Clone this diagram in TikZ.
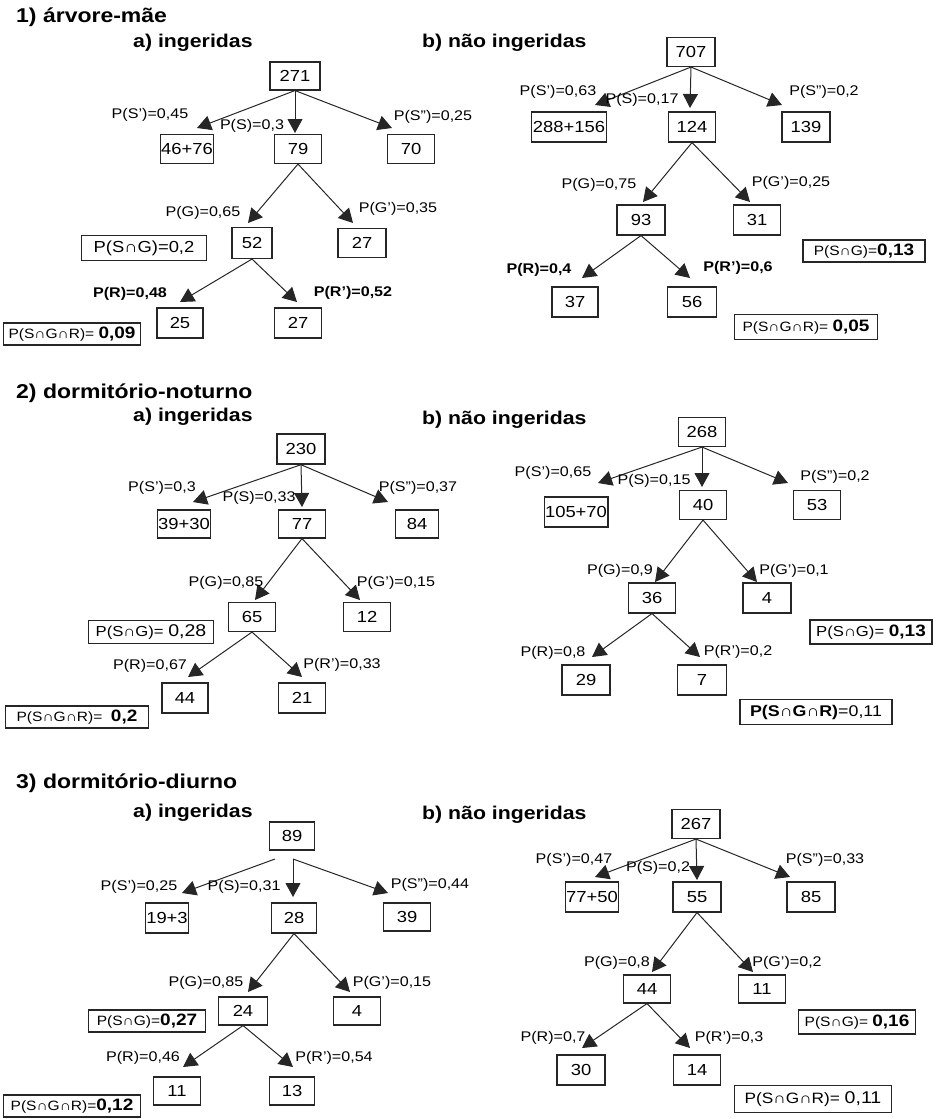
\documentclass[tikz,border=0pt]{standalone}
\usepackage{fontspec}
\setmainfont{Liberation Sans}[FakeStretch=1.15]
\usetikzlibrary{arrows.meta}

\newcommand{\valb}[1]{{\fontsize{16.5}{16}\selectfont\bfseries #1}}
\newcommand{\valn}[1]{{\fontsize{17}{16}\selectfont #1}}

\tikzset{
  num/.style={draw=black!85, line width=1.1pt, minimum width=47pt, minimum height=29pt, inner sep=1pt, font=\fontsize{16}{16}\selectfont},
  prob/.style={inner sep=0pt, font=\fontsize{14}{14}\selectfont},
  probb/.style={inner sep=0pt, font=\fontsize{14}{14}\selectfont\bfseries},
  res/.style={draw=black!85, line width=1.1pt, inner sep=1pt, font=\fontsize{13.5}{13}\selectfont},
  arr/.style={-{Triangle[length=14pt,width=15pt]}, line width=1pt, draw=black!85},
  ttl/.style={anchor=west, inner sep=0pt, font=\fontsize{20}{20}\selectfont\bfseries},
  sub/.style={anchor=west, inner sep=0pt, font=\fontsize{18.5}{18}\selectfont\bfseries}
}

\begin{document}
\begin{tikzpicture}[x=1pt, y=-1pt]
  \useasboundingbox (0,0) rectangle (942,1119);

  % 1) arvore-mae
  \node[ttl] (t1) at (16,17) {1) árvore-mãe};
  \node[sub] (t1a) at (133,43) {a) ingeridas};
  \node[sub] (t1b) at (422,43) {b) não ingeridas};

  % 1a
  \node[num, minimum width=50pt, minimum height=28pt] (r1a) at (295,76) {271};
  \node[num, minimum width=51pt] (s1a) at (187,149) {46+76};
  \node[num] (m1a) at (298,149) {79};
  \node[num] (d1a) at (411,149) {70};
  \coordinate (ts1a) at (197,128);
  \coordinate (tm1a) at (295,133);
  \coordinate (td1a) at (392,128);
  \draw[arr] (r1a.south) -- (ts1a);
  \draw[arr] (r1a.south) -- (tm1a);
  \draw[arr] (r1a.south) -- (td1a);
  \node[prob] (ls1a) at (150,115) {P(S’)=0,45};
  \node[prob] (lm1a) at (252,126) {P(S)=0,3};
  \node[prob] (ld1a) at (433,117) {P(S”)=0,25};

  \node[num, minimum width=40pt, minimum height=31pt] (g1a) at (252,243) {52};
  \node[num, minimum width=48pt] (gn1a) at (362,243) {27};
  \coordinate (tg1a) at (248,223);
  \coordinate (tgn1a) at (353,223);
  \draw[arr] (m1a.south) -- (tg1a);
  \draw[arr] (m1a.south) -- (tgn1a);
  \node[prob] (lg1a) at (203,213) {P(G)=0,65};
  \node[prob] (lgn1a) at (398,209) {P(G’)=0,35};
  \node[res, minimum width=125pt, minimum height=25pt, font=\fontsize{16}{16}\selectfont] (sg1a) at (144,248) {P(S∩G)=0,2};

  \node[num, minimum width=46pt, minimum height=30pt] (rr1a) at (180,323) {25};
  \node[num, minimum height=30pt] (rn1a) at (298,323) {27};
  \coordinate (trr1a) at (180,302);
  \coordinate (trn1a) at (297,302);
  \draw[arr] (g1a.south) -- (trr1a);
  \draw[arr] (g1a.south) -- (trn1a);
  \node[probb] (lr1a) at (130,294) {P(R)=0,48};
  \node[probb] (lrn1a) at (353,293) {P(R’)=0,52};
  \node[res, minimum width=137pt, minimum height=22pt] (sgr1a) at (72,334) {P(S∩G∩R)= \valb{0,09}};

  % 1b
  \node[num, minimum width=48pt] (r1b) at (691,52) {707};
  \node[num, minimum width=72pt, minimum height=30pt] (s1b) at (569,127) {288+156};
  \node[num, minimum height=30pt] (m1b) at (692,127) {124};
  \node[num, minimum width=48pt, minimum height=30pt] (d1b) at (806,127) {139};
  \coordinate (ts1b) at (595,105);
  \coordinate (tm1b) at (690,108);
  \coordinate (td1b) at (782,105);
  \draw[arr] (r1b.south) -- (ts1b);
  \draw[arr] (r1b.south) -- (tm1b);
  \draw[arr] (r1b.south) -- (td1b);
  \node[prob] (ls1b) at (558,92) {P(S’)=0,63};
  \node[prob] (lm1b) at (642,100) {P(S)=0,17};
  \node[prob] (ld1b) at (824,92) {P(S”)=0,2};

  \node[num, minimum width=48pt, minimum height=30pt] (g1b) at (641,220) {93};
  \node[num, minimum height=30pt] (gn1b) at (757,220) {31};
  \coordinate (tg1b) at (643,202);
  \coordinate (tgn1b) at (750,202);
  \draw[arr] (m1b.south) -- (tg1b);
  \draw[arr] (m1b.south) -- (tgn1b);
  \node[prob] (lg1b) at (599,185) {P(G)=0,75};
  \node[prob] (lgn1b) at (791,183) {P(G’)=0,25};
  \node[res, minimum width=122pt, minimum height=22pt] (sg1b) at (864,251) {P(S∩G)=\valb{0,13}};

  \node[num, minimum width=46pt, minimum height=30pt] (rr1b) at (575,302) {37};
  \node[num, minimum width=49pt, minimum height=30pt] (rn1b) at (692,302) {56};
  \coordinate (trr1b) at (582,278);
  \coordinate (trn1b) at (690,278);
  \draw[arr] (g1b.south) -- (trr1b);
  \draw[arr] (g1b.south) -- (trn1b);
  \node[probb] (lr1b) at (539,270) {P(R)=0,4};
  \node[probb] (lrn1b) at (738,268) {P(R’)=0,6};
  \node[res, minimum width=143pt, minimum height=25pt] (sgr1b) at (806,327) {P(S∩G∩R)= \valb{0,05}};

  % 2) dormitorio-noturno
  \node[ttl] (t2) at (16,393) {2) dormitório-noturno};
  \node[sub] (t2a) at (133,417) {a) ingeridas};
  \node[sub] (t2b) at (422,420) {b) não ingeridas};

  % 2a
  \node[num, line width=1.4pt, minimum width=48pt, minimum height=30pt] (r2a) at (301,449) {230};
  \node[num, minimum width=52pt, minimum height=28pt] (s2a) at (184,524) {39+30};
  \node[num, minimum height=28pt] (m2a) at (302,524) {77};
  \node[num, minimum width=43pt, minimum height=28pt] (d2a) at (417,524) {84};
  \coordinate (ts2a) at (193,502);
  \coordinate (tm2a) at (302,507);
  \coordinate (td2a) at (388,502);
  \draw[arr] (r2a.south) -- (ts2a);
  \draw[arr] (r2a.south) -- (tm2a);
  \draw[arr] (r2a.south) -- (td2a);
  \node[prob] (ls2a) at (162,488) {P(S’)=0,3};
  \node[prob] (lm2a) at (259,498) {P(S)=0,33};
  \node[prob] (ld2a) at (418,488) {P(S”)=0,37};

  \node[num] (g2a) at (252,617) {65};
  \node[num] (gn2a) at (367,617) {12};
  \coordinate (tg2a) at (255,600);
  \coordinate (tgn2a) at (360,600);
  \draw[arr] (m2a.south) -- (tg2a);
  \draw[arr] (m2a.south) -- (tgn2a);
  \node[prob] (lg2a) at (226,583) {P(G)=0,85};
  \node[prob] (lgn2a) at (396,583) {P(G’)=0,15};
  \node[res, line width=1.6pt, minimum width=125pt, minimum height=23pt, font=\fontsize{14.5}{14}\selectfont] (sg2a) at (151,632) {P(S∩G)= \valn{0,28}};

  \node[num, minimum width=46pt, minimum height=30pt] (rr2a) at (185,698) {44};
  \node[num, minimum height=30pt] (rn2a) at (302,698) {21};
  \coordinate (trr2a) at (188,677);
  \coordinate (trn2a) at (302,677);
  \draw[arr] (g2a.south) -- (trr2a);
  \draw[arr] (g2a.south) -- (trn2a);
  \node[prob] (lr2a) at (150,666) {P(R)=0,67};
  \node[prob] (lrn2a) at (342,665) {P(R’)=0,33};
  \node[res, line width=1.5pt, minimum width=143pt, minimum height=22pt] (sgr2a) at (77,717) {P(S∩G∩R)= \ \valb{0,2}};

  % 2b
  \node[num] (r2b) at (702,432) {268};
  \node[num, minimum width=62pt, minimum height=30pt] (s2b) at (576,512) {105+70};
  \node[num] (m2b) at (703,505) {40};
  \node[num] (d2b) at (817,505) {53};
  \coordinate (ts2b) at (598,483);
  \coordinate (tm2b) at (702,487);
  \coordinate (td2b) at (788,483);
  \draw[arr] (r2b.south) -- (ts2b);
  \draw[arr] (r2b.south) -- (tm2b);
  \draw[arr] (r2b.south) -- (td2b);
  \node[prob] (ls2b) at (553,473) {P(S’)=0,65};
  \node[prob] (lm2b) at (654,481) {P(S)=0,15};
  \node[prob] (ld2b) at (835,477) {P(S”)=0,2};

  \node[num, minimum height=30pt] (g2b) at (652,598) {36};
  \node[num, minimum width=48pt, minimum height=30pt] (gn2b) at (767,598) {4};
  \coordinate (tg2b) at (655,582);
  \coordinate (tgn2b) at (757,582);
  \draw[arr] (m2b.south) -- (tg2b);
  \draw[arr] (m2b.south) -- (tgn2b);
  \node[prob] (lg2b) at (620,571) {P(G)=0,9};
  \node[prob] (lgn2b) at (794,571) {P(G’)=0,1};
  \node[res, minimum width=122pt, minimum height=24pt, font=\fontsize{14.5}{14}\selectfont] (sg2b) at (871,632) {P(S∩G)= \valb{0,13}};

  \node[num, minimum width=48pt, minimum height=30pt] (rr2b) at (586,680) {29};
  \node[num, minimum width=49pt, minimum height=30pt] (rn2b) at (702,680) {7};
  \coordinate (trr2b) at (592,657);
  \coordinate (trn2b) at (700,657);
  \draw[arr] (g2b.south) -- (trr2b);
  \draw[arr] (g2b.south) -- (trn2b);
  \node[prob] (lr2b) at (553,653) {P(R)=0,8};
  \node[prob] (lrn2b) at (738,652) {P(R’)=0,2};
  \node[res, minimum width=152pt, minimum height=25pt, font=\fontsize{15.5}{15}\selectfont] (sgr2b) at (816,712) {\textbf{P(S∩G∩R)}=0,11};

  % 3) dormitorio-diurno
  \node[ttl] (t3) at (16,783) {3) dormitório-diurno};
  \node[sub] (t3a) at (133,813) {a) ingeridas};
  \node[sub] (t3b) at (422,815) {b) não ingeridas};

  % 3a
  \node[num, minimum width=45pt, minimum height=28pt] (r3a) at (292,836) {89};
  \coordinate (o3al) at (275,859);
  \coordinate (o3a) at (293,859);
  \node[num, minimum width=34pt, minimum height=30pt] (s3a) at (167,918) {19+3};
  \node[num, minimum width=45pt, minimum height=30pt] (m3a) at (294,918) {28};
  \node[num, minimum height=28pt] (d3a) at (407,917) {39};
  \coordinate (ts3a) at (182,893);
  \coordinate (tm3a) at (293,897);
  \coordinate (td3a) at (388,893);
  \draw[arr] (o3al) -- (ts3a);
  \draw[arr] (o3a) -- (tm3a);
  \draw[arr] (o3a) -- (td3a);
  \node[prob] (ls3a) at (139,887) {P(S’)=0,25};
  \node[prob] (lm3a) at (244,887) {P(S)=0,31};
  \node[prob] (ld3a) at (430,885) {P(S”)=0,44};

  \node[num, minimum width=49pt, minimum height=28pt] (g3a) at (243,1011) {24};
  \node[num, minimum height=28pt] (gn3a) at (357,1011) {4};
  \coordinate (tg3a) at (248,992);
  \coordinate (tgn3a) at (350,992);
  \draw[arr] (m3a.south) -- (tg3a);
  \draw[arr] (m3a.south) -- (tgn3a);
  \node[prob] (lg3a) at (206,983) {P(G)=0,85};
  \node[prob] (lgn3a) at (392,983) {P(G’)=0,15};
  \node[res, line width=1.6pt, minimum width=117pt, minimum height=22pt] (sg3a) at (147,1021) {P(S∩G)=\valb{0,27}};

  \node[num, minimum height=28pt] (rr3a) at (177,1091) {11};
  \node[num, minimum width=45pt, minimum height=28pt] (rn3a) at (292,1091) {13};
  \coordinate (trr3a) at (183,1067);
  \coordinate (trn3a) at (293,1067);
  \draw[arr] (g3a.south) -- (trr3a);
  \draw[arr] (g3a.south) -- (trn3a);
  \node[prob] (lr3a) at (143,1058) {P(R)=0,46};
  \node[prob] (lrn3a) at (334,1058) {P(R’)=0,54};
  \node[res, line width=1.6pt, minimum width=137pt, minimum height=22pt] (sgr3a) at (72,1106) {P(S∩G∩R)=\valb{0,12}};

  % 3b
  \node[num, minimum width=48pt] (r3b) at (696,824) {267};
  \node[num, minimum width=49pt, minimum height=30pt] (s3b) at (592,897) {77+50};
  \node[num, minimum width=48pt, minimum height=30pt] (m3b) at (697,897) {55};
  \node[num, minimum width=48pt, minimum height=30pt] (d3b) at (811,897) {85};
  \coordinate (ts3b) at (595,877);
  \coordinate (tm3b) at (697,880);
  \coordinate (td3b) at (790,877);
  \draw[arr] (r3b.south) -- (ts3b);
  \draw[arr] (r3b.south) -- (tm3b);
  \draw[arr] (r3b.south) -- (td3b);
  \node[prob] (ls3b) at (574,860) {P(S’)=0,47};
  \node[prob] (lm3b) at (658,868) {P(S)=0,2};
  \node[prob] (ld3b) at (825,860) {P(S”)=0,33};

  \node[num, minimum height=28pt] (g3b) at (647,989) {44};
  \node[num, minimum height=28pt] (gn3b) at (762,989) {11};
  \coordinate (tg3b) at (652,972);
  \coordinate (tgn3b) at (753,972);
  \draw[arr] (m3b.south) -- (tg3b);
  \draw[arr] (m3b.south) -- (tgn3b);
  \node[prob] (lg3b) at (617,963) {P(G)=0,8};
  \node[prob] (lgn3b) at (787,963) {P(G’)=0,2};
  \node[res, minimum width=117pt, minimum height=24pt] (sg3b) at (857,1022) {P(S∩G)= \valb{0,16}};

  \node[num, minimum width=48pt, minimum height=30pt] (rr3b) at (581,1070) {30};
  \node[num, minimum height=30pt] (rn3b) at (697,1070) {14};
  \coordinate (trr3b) at (582,1048);
  \coordinate (trn3b) at (690,1048);
  \draw[arr] (g3b.south) -- (trr3b);
  \draw[arr] (g3b.south) -- (trn3b);
  \node[prob] (lr3b) at (553,1038) {P(R)=0,7};
  \node[prob] (lrn3b) at (729,1038) {P(R’)=0,3};
  \node[res, minimum width=157pt, minimum height=27pt, font=\fontsize{15}{15}\selectfont] (sgr3b) at (813,1099) {P(S∩G∩R)= \valn{0,11}};
\end{tikzpicture}
\end{document}
